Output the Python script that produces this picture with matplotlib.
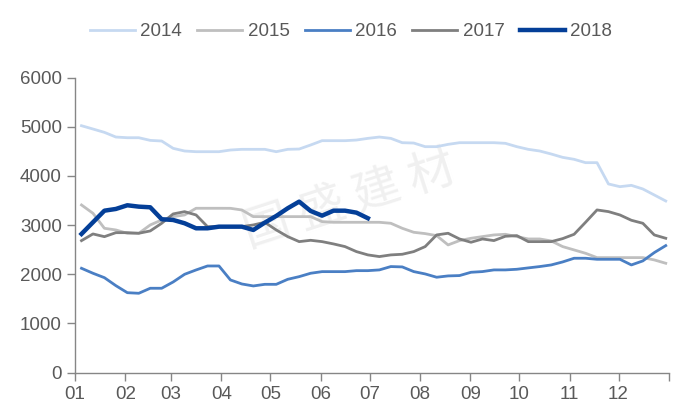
import numpy as np
import matplotlib.pyplot as plt
from matplotlib import font_manager

# 每周数据（52周）
y2014 = [5020, 4953, 4885, 4790, 4776, 4776, 4722, 4709, 4560, 4506, 4492, 4492, 4492,
         4526, 4540, 4540, 4540, 4492, 4540, 4546, 4628, 4716, 4716, 4716, 4729, 4763,
         4790, 4763, 4675, 4668, 4594, 4594, 4641, 4675, 4675, 4675, 4675, 4662, 4594,
         4540, 4506, 4445, 4377, 4337, 4269, 4269, 3836, 3781, 3808, 3734, 3612, 3490]
y2015 = [3409, 3240, 2935, 2901, 2833, 2833, 3003, 3104, 3172, 3206, 3342, 3342, 3342,
         3341, 3307, 3172, 3172, 3172, 3172, 3172, 3172, 3071, 3057, 3057, 3057, 3057,
         3057, 3037, 2935, 2854, 2827, 2786, 2597, 2685, 2732, 2766, 2800, 2813, 2766,
         2718, 2718, 2678, 2563, 2495, 2427, 2339, 2339, 2339, 2339, 2339, 2292, 2224]
y2016 = [2122, 2021, 1931, 1769, 1626, 1614, 1716, 1716, 1844, 2000, 2088, 2169, 2169,
         1885, 1803, 1763, 1796, 1796, 1898, 1952, 2021, 2054, 2054, 2054, 2074, 2074,
         2089, 2157, 2150, 2055, 2007, 1940, 1967, 1974, 2041, 2055, 2089, 2089, 2102,
         2130, 2157, 2190, 2251, 2326, 2326, 2305, 2305, 2305, 2190, 2272, 2441, 2583]
y2017 = [2684, 2820, 2765, 2846, 2846, 2834, 2881, 3037, 3227, 3273, 3206, 2968, 2968,
         2969, 2969, 3003, 3057, 2901, 2766, 2664, 2691, 2664, 2617, 2563, 2461, 2394,
         2360, 2394, 2407, 2461, 2563, 2800, 2834, 2718, 2651, 2718, 2685, 2773, 2786,
         2664, 2664, 2664, 2725, 2813, 3057, 3308, 3274, 3206, 3098, 3037, 2800, 2732]
y2018 = [2820, 3057, 3293, 3328, 3403, 3375, 3362, 3119, 3104, 3037, 2935, 2935, 2968,
         2968, 2968, 2901, 3050, 3186, 3342, 3477, 3287, 3192, 3293, 3293, 3253, 3139]

month_starts = [0, 31, 59, 90, 120, 151, 181, 212, 243, 273, 304, 334, 365]
month_labels = ['01', '02', '03', '04', '05', '06', '07', '08', '09', '10', '11', '12', '']

fams = [f.name for f in font_manager.fontManager.ttflist]
base_font = 'Liberation Sans Narrow' if 'Liberation Sans Narrow' in fams else 'Liberation Sans'
plt.rcParams['font.family'] = [base_font, 'DejaVu Sans']

days = np.linspace(4, 363, 52)

fig = plt.figure(figsize=(6.83, 4.09), dpi=100)
ax = fig.add_axes([0.1098, 0.0888, 0.8697, 0.7217])

# 水印
ax.text(0.463, 0.585, '国 盛 建 材', transform=ax.transAxes, fontsize=34,
        family=['Noto Sans CJK SC'], color='#f0f0f0', rotation=18,
        ha='center', va='center', style='italic', zorder=0)

ax.plot(days, y2014, color='#c6d9f1', lw=2.0, label='2014')
ax.plot(days, y2015, color='#bfbfbf', lw=2.0, label='2015')
ax.plot(days, y2016, color='#4a7fc4', lw=2.0, label='2016')
ax.plot(days, y2017, color='#7f7f7f', lw=2.0, label='2017')
ax.plot(days[:len(y2018)], y2018, color='#043f98', lw=3.2, label='2018')

ax.set_xlim(0, 365)
ax.set_ylim(0, 6000)
ax.set_yticks(range(0, 6001, 1000))
ax.set_xticks(month_starts)
ax.set_xticklabels(month_labels)

for s in ['top', 'right']:
    ax.spines[s].set_visible(False)
for s in ['left', 'bottom']:
    ax.spines[s].set_color('#868686')
    ax.spines[s].set_linewidth(1.0)
ax.tick_params(colors='#868686', labelcolor='#595959', labelsize=13.5, length=6, width=1.0)

leg = fig.legend(loc='center', bbox_to_anchor=(0.514, 0.922), ncol=5, frameon=False,
                 fontsize=13.5, handlelength=2.4, columnspacing=0.8, handletextpad=0.3)
for t in leg.get_texts():
    t.set_color('#595959')

fig.savefig('out.png', dpi=100)
